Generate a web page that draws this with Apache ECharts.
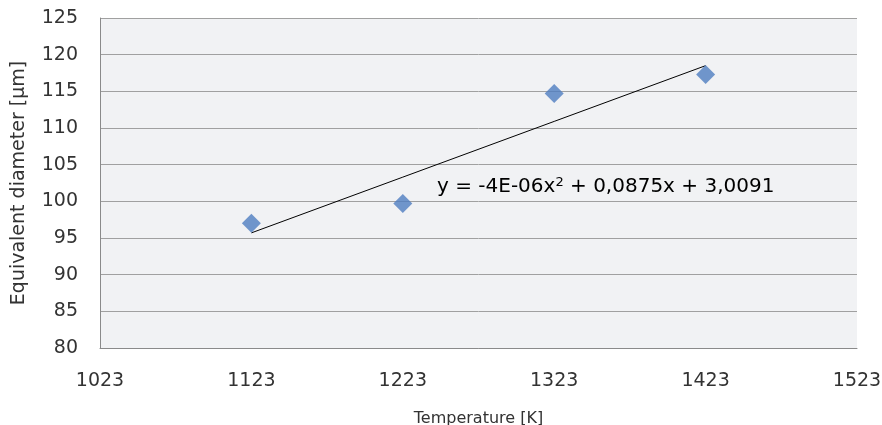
<!DOCTYPE html>
<html>
<head>
<meta charset="utf-8">
<script src="https://cdn.jsdelivr.net/npm/echarts@6/dist/echarts.min.js"></script>
<style>html,body{margin:0;padding:0;background:#fff}#c{width:882px;height:425px}</style>
</head>
<body>
<div id="c"></div>
<script>
// Data
const temperatures = [1123, 1223, 1323, 1423];
const diameters = [97.0, 99.7, 114.7, 117.3];
// Trendline as drawn in the picture (read, not computed)
const trendTemps = [1123, 1223, 1323, 1423];
const trendValues = [95.7, 103.3, 110.9, 118.5];
const equationText = ['y = -4E-06x', '2', ' + 0,0875x + 3,0091'];
const xTicks = [1023, 1123, 1223, 1323, 1423, 1523];
const yTicks = [80, 85, 90, 95, 100, 105, 110, 115, 120, 125];

const chart = echarts.init(document.getElementById('c'), null, {renderer: 'canvas'});
const tickFont = {fontFamily: 'DejaVu Sans', fontSize: 19, color: '#333'};
chart.setOption({
  animation: false,
  grid: {left: 100, right: 25, top: 18, bottom: 77, show: true, backgroundColor: '#f1f2f4', borderWidth: 0,
         containLabel: false, outerBoundsMode: 'none'},
  xAxis: {
    type: 'value', min: xTicks[0], max: xTicks[xTicks.length - 1], interval: 100,
    axisLine: {show: true, lineStyle: {color: '#8a8a8a', width: 1}},
    axisTick: {show: false},
    splitLine: {show: false},
    axisLabel: Object.assign({margin: 24, formatter: v => String(v)}, tickFont),
    name: 'Temperature [K]', nameLocation: 'middle', nameGap: 63,
    nameTextStyle: {fontFamily: 'DejaVu Sans', fontSize: 16, color: '#333'}
  },
  yAxis: {
    type: 'value', min: yTicks[0], max: yTicks[yTicks.length - 1], interval: 5,
    axisLine: {show: true, lineStyle: {color: '#8a8a8a', width: 1}},
    axisTick: {show: false},
    splitLine: {show: true, lineStyle: {color: '#a0a0a0', width: 1}},
    axisLabel: Object.assign({margin: 22}, tickFont),
    name: 'Equivalent diameter [µm]', nameLocation: 'middle', nameGap: 71,
    nameTextStyle: {fontFamily: 'DejaVu Sans', fontSize: 19, color: '#333'}
  },
  series: [
    {
      type: 'line', data: trendTemps.map((t, i) => [t, trendValues[i]]),
      showSymbol: false, symbol: 'none', lineStyle: {color: '#000', width: 1}, z: 3
    },
    {
      type: 'scatter', data: temperatures.map((t, i) => [t, diameters[i]]),
      symbol: 'diamond', symbolSize: [19, 19], itemStyle: {color: '#4f7dc0'}, z: 4
    }
  ],
  graphic: [{
    type: 'text', left: 437, top: 176, z: 10,
    style: {
      text: '{a|' + equationText[0] + '}{s|' + equationText[1] + '}{a|' + equationText[2] + '}',
      rich: {
        a: {fontFamily: 'DejaVu Sans', fontSize: 20, fill: '#000', color: '#000'},
        s: {fontFamily: 'DejaVu Sans', fontSize: 13, fill: '#000', color: '#000', verticalAlign: 'top', padding: [0, 0, 8, 0]}
      }
    }
  }]
});
</script>
</body>
</html>
